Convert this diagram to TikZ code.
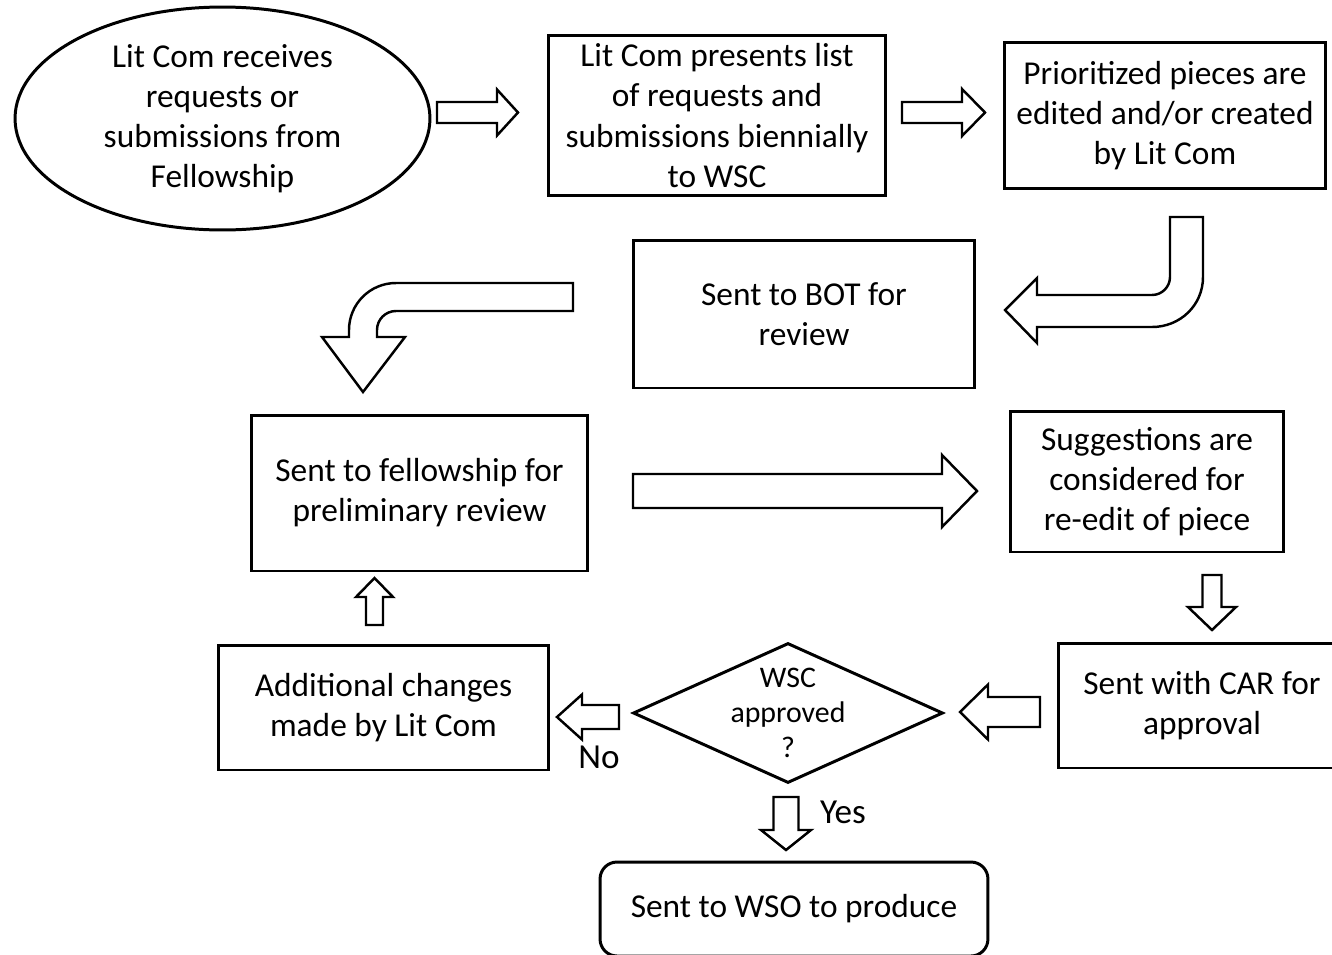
\documentclass[tikz,border=0pt]{standalone}
\usepackage{fontspec}
\setmainfont{Carlito}
\usetikzlibrary{shapes.geometric}

\tikzset{
  fatline/.style={line width=1.4pt,line join=miter,fill=white},
  pics/fatarrow/.style args={#1/#2/#3/#4}{code={
    \draw[fatline] (0,#2) -- (#1-#4,#2) -- (#1-#4,#3) -- (#1,0)
      -- (#1-#4,-#3) -- (#1-#4,-#2) -- (0,-#2) -- cycle;
  }}
}

\begin{document}
\begin{tikzpicture}[x=0.02cm,y=-0.02cm,
    every node/.style={font=\fontsize{19}{22.8}\selectfont,align=center,inner sep=0pt},
    stage/.style={draw,line width=1.7pt},
    small/.style={font=\fontsize{17}{20}\selectfont},
    answer/.style={font=\fontsize{20}{24}\selectfont}]
    \clip (0,0) rectangle (1332,954);
    %% Top row
    \node[stage,ellipse,minimum width=8.3cm,minimum height=4.46cm] (recv) at (222.5,118.5)
        {Lit Com receives\\requests or\\submissions from\\Fellowship};
    \node[stage,minimum width=6.76cm,minimum height=3.22cm] (present) at (717,115.5)
        {Lit Com presents list\\of requests and\\submissions biennially\\to WSC};
    \node[stage,minimum width=6.44cm,minimum height=2.94cm] (edit) at (1165,115.5)
        {Prioritized pieces are\\edited and/or created\\by Lit Com};
    %% Review
    \node[stage,minimum width=6.84cm,minimum height=2.96cm] (bot) at (804,314)
        {Sent to BOT for\\review};
    \node[stage,minimum width=6.74cm,minimum height=3.12cm] (fellow) at (419.5,493)
        {Sent to fellowship for\\preliminary review};
    \node[stage,minimum width=5.48cm,minimum height=2.82cm] (suggest) at (1147,481.5)
        {Suggestions are\\considered for\\re-edit of piece};
    %% Approval
    \node[stage,minimum width=5.76cm,minimum height=2.5cm] (car) at (1202,705.5)
        {Sent with CAR for\\approval};
    \node[stage,diamond,minimum width=6.2cm,minimum height=2.8cm,
        label={[small]center:WSC\\approved\\?}] (approve) at (788,713) {};
    \node[stage,minimum width=6.62cm,minimum height=2.5cm] (extra) at (383.5,707.5)
        {Additional changes\\made by Lit Com};
    \node[stage,rounded corners=0.34cm,minimum width=7.76cm,minimum height=1.88cm] (wso) at (794,909)
        {Sent to WSO to produce};
    \node[answer] (no) at (599,757) {No};
    \node[answer] (yes) at (843,812) {Yes};
    %% Straight block arrows
    \pic at (437,112.5) {fatarrow=81/10.5/23/21};
    \pic at (902,112.5) {fatarrow=83/10.5/23.5/23};
    \pic at (633,491) {fatarrow=344/17/36/35};
    \pic[rotate=-90] at (1212,575) {fatarrow=55/9.5/24/23};
    \pic[rotate=180] at (1040,712) {fatarrow=80/15/27.5/28};
    \pic[rotate=180] at (619,717) {fatarrow=62/12/22.5/25};
    \pic[rotate=90] at (374.5,625) {fatarrow=47/8.5/18.5/19};
    \pic[rotate=-90] at (786,797) {fatarrow=53/12.5/25/20};
    %% Bent arrows
    \draw[fatline] (1170,217) -- (1203,217) -- (1203,277) .. controls (1203,305.2) and (1180.2,327) .. (1152,327)
        -- (1037,327) -- (1037,343) -- (1005,310) -- (1037,278) -- (1037,295) -- (1152,295)
        .. controls (1161.9,295) and (1170,286.9) .. (1170,277) -- cycle;
    \draw[fatline] (573,283) -- (573,311) -- (396,311) .. controls (385.5,311) and (377,319.5) .. (377,330)
        -- (377,337) -- (405,337) -- (363,392) -- (322,337) -- (349,337) -- (349,330)
        .. controls (349,304) and (370,283) .. (396,283) -- cycle;
\end{tikzpicture}
\end{document}
